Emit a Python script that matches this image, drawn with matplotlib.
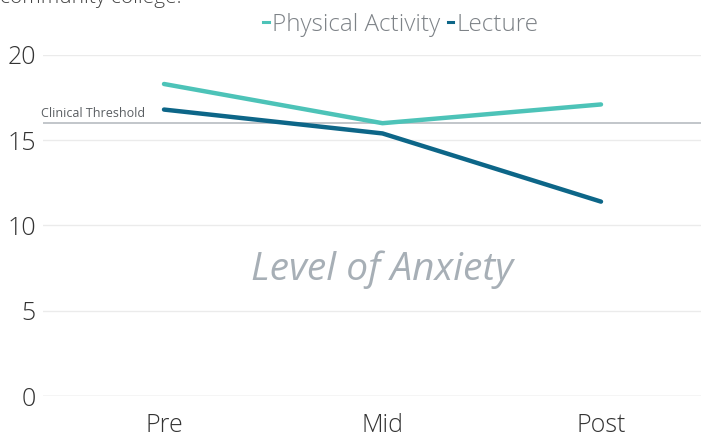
import matplotlib
matplotlib.use("Agg")
import matplotlib.pyplot as plt
from matplotlib.lines import Line2D

plt.rcParams['font.family'] = ['Open Sans', 'DejaVu Sans']

# Data
stages = ["Pre", "Mid", "Post"]
physical_activity = [18.3, 16.0, 17.1]
lecture = [16.8, 15.4, 11.4]
clinical_threshold = 16.0
y_ticks = [0, 5, 10, 15, 20]

pa_color = "#4dc3b8"
lec_color = "#0d6688"

fig = plt.figure(figsize=(7.01, 4.38), dpi=100)
# axes spans pixel x 43..701, y 55..396 (value 20 at top, 0 at bottom)
ax = fig.add_axes([43 / 701, 1 - 396 / 438, (701 - 43) / 701, (396 - 55) / 438])

x = list(range(len(stages)))
ax.set_ylim(0, 20)
step = 218.5
ax.set_xlim(-(164 - 43) / step, 2 + (701 - 601) / step)

for t in y_ticks:
    ax.axhline(t, color="#d0d0d0" if t == 0 else "#ebebeb", lw=1.0, zorder=0)

ax.axhline(clinical_threshold, color="#c2c6ca", lw=1.4, zorder=1)
ax.text(ax.get_xlim()[0] - 2 / step, clinical_threshold + 0.2, "Clinical Threshold",
        fontsize=9, color="#5a5e62", ha="left", va="bottom")

ax.plot(x, physical_activity, color=pa_color, lw=3.2, solid_capstyle="round", zorder=3)
ax.plot(x, lecture, color=lec_color, lw=3.2, solid_capstyle="round", zorder=3)

ax.text(1.0, 7.4, "Level of Anxiety", fontsize=28, style="italic", color="#a7afb6",
        ha="center", va="center")

ax.set_yticks(y_ticks)
ax.set_xticks(x)
ax.set_xticklabels(stages)
ax.tick_params(axis="both", length=0, labelsize=18, colors="#333333")
for lab in ax.get_xticklabels() + ax.get_yticklabels():
    lab.set_fontweight("light")
ax.tick_params(axis="y", pad=5)
ax.tick_params(axis="x", pad=12)
for s in ax.spines.values():
    s.set_visible(False)
ax.patch.set_alpha(0)

handles = [Line2D([0], [0], color=pa_color, lw=2.2),
           Line2D([0], [0], color=lec_color, lw=2.2)]
leg = fig.legend(handles, ["Physical Activity", "Lecture"], loc="center",
                 bbox_to_anchor=(401 / 701, 1 - 25 / 438), ncol=2, frameon=False,
                 handlelength=0.22, handletextpad=0.15, columnspacing=0.3,
                 prop={"size": 17.5, "weight": "light"})
for t in leg.get_texts():
    t.set_color("#7d8287")

fig.text(0.0, 1 - 3 / 438, "community college.", fontsize=15, color="#444444",
         ha="left", va="baseline", fontweight="light")

fig.savefig("out.png", dpi=100)
